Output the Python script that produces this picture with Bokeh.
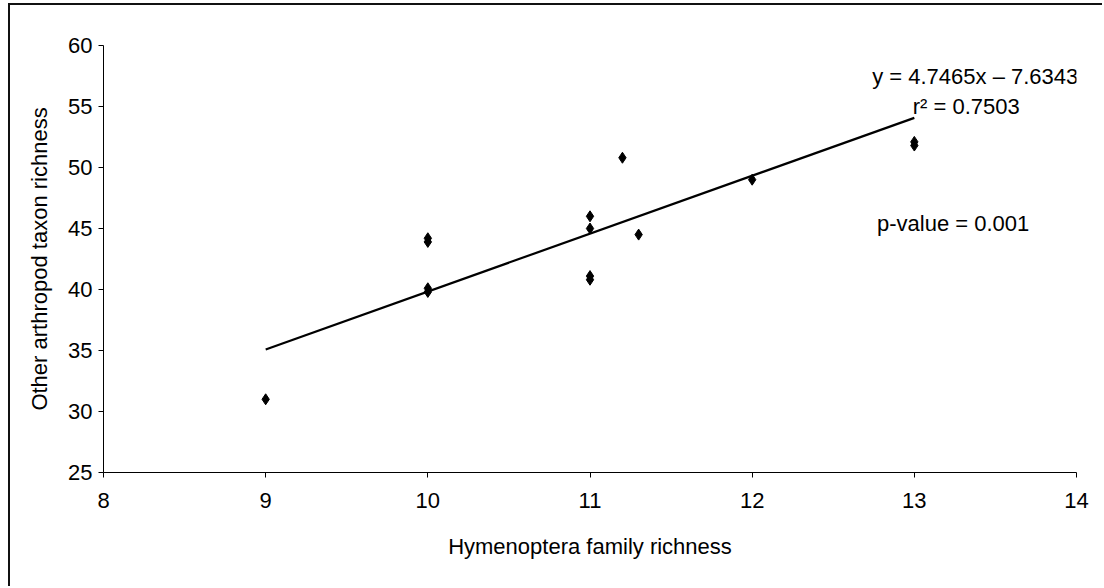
from bokeh.plotting import figure
from bokeh.models import Range1d, FixedTicker, Label, ColumnDataSource
from bokeh.embed import file_html
from bokeh.resources import INLINE

# Hymenoptera family richness vs. richness of the other arthropod taxa
hymenoptera = [9, 10, 10, 10, 10, 11, 11, 11, 11, 11.2, 11.3, 12, 13, 13]
other_taxa = [31, 44.2, 43.9, 40.1, 39.8, 46, 45, 41.1, 40.8, 50.8, 44.5, 49, 52.1, 51.8]

x_ticks = [8, 9, 10, 11, 12, 13, 14]
y_ticks = [25, 30, 35, 40, 45, 50, 55, 60]

# fitted linear trend
slope = 4.7465
intercept = -7.6343
r_squared = 0.7503
p_value = 0.001
fit_x = [min(hymenoptera), max(hymenoptera)]
fit_y = [slope * v + intercept for v in fit_x]

FONT = "Liberation Sans"
SIZE = "22px"

p = figure(
    width=1094, height=583,
    x_range=Range1d(8, 14), y_range=Range1d(25, 60),
    output_backend="svg", toolbar_location=None,
    min_border_left=93, min_border_right=28,
    min_border_top=40, min_border_bottom=116,
)
p.margin = (5, 0, 0, 10)
p.styles = {"box-shadow": "-2px -2px 0 0 #111"}
p.outline_line_color = None
p.grid.visible = False
p.background_fill_color = "white"
p.border_fill_color = "white"

p.xaxis.ticker = FixedTicker(ticks=x_ticks)
p.yaxis.ticker = FixedTicker(ticks=y_ticks)
for ax in (p.xaxis, p.yaxis):
    ax.axis_line_color = "black"
    ax.axis_line_width = 1
    ax.major_tick_line_color = "black"
    ax.major_tick_in = 0
    ax.major_tick_out = 5
    ax.minor_tick_line_color = None
    ax.major_label_text_font = FONT
    ax.major_label_text_font_size = SIZE
    ax.major_label_text_color = "black"
    ax.axis_label_text_font = FONT
    ax.axis_label_text_font_size = SIZE
    ax.axis_label_text_font_style = "normal"
    ax.axis_label_text_color = "black"

p.xaxis.axis_label = "Hymenoptera family richness"
p.yaxis.axis_label = "Other arthropod taxon richness"
p.xaxis.major_label_standoff = 15
p.xaxis.axis_label_standoff = 23
p.yaxis.major_label_standoff = 6
p.yaxis.axis_label_standoff = 13

p.line(fit_x, fit_y, line_color="black", line_width=2.2)

src = ColumnDataSource(dict(x=hymenoptera, y=other_taxa))
p.scatter("x", "y", source=src, marker="diamond", size=11,
          fill_color="black", line_color="black")

label_style = dict(text_font=FONT, text_font_size=SIZE, text_color="black",
                   text_baseline="middle")
p.add_layout(Label(x=12.74, y=57.45, text=f"y = {slope}x \u2013 {abs(intercept)}", **label_style))
p.add_layout(Label(x=12.99, y=55.0, text=f"r\u00b2 = {r_squared}", **label_style))
p.add_layout(Label(x=12.77, y=45.4, text=f"p-value = {p_value}", **label_style))

open("out.html", "w").write(file_html(p, INLINE))
